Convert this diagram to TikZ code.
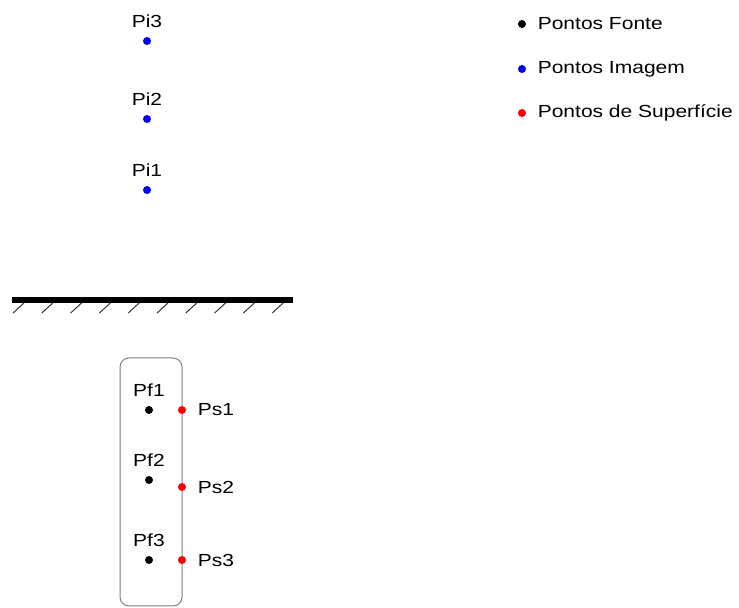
\documentclass[tikz,border=0pt]{standalone}
\usepackage{fontspec}
\setmainfont[FakeStretch=1.2]{Liberation Sans}
\usetikzlibrary{positioning}
\begin{document}
\begin{tikzpicture}[x=.5pt, y=-.5pt, every node/.style={font={\fontsize{8.75}{10}\selectfont}, inner sep=0pt}, line join=round]
  \tikzset{spot/.style={circle, fill=#1, minimum size=4pt, inner sep=0pt}, ground/.style={draw=black, line width=3pt}, hatch/.style={draw=black!80, line width=.5pt}, casing/.style={draw=gray, line width=.5pt, rounded corners=4.5pt}}
  \useasboundingbox (0,0) rectangle (739,608);

  % image points above the surface
  \foreach \n/\y in {1/190,2/119,3/41} {
    \node[spot=blue] (pi\n) at (147,\y) {};
    \node[above=4.5pt of pi\n] (pi\n txt) {Pi\n};
  }

  % surface with hatching
  \draw[ground] (12,300) -- (293,300);
  \foreach \i in {0,...,9} {
    \draw[hatch] (13+28.8*\i,313) -- ++(11,-10);
  }

  % source body: source points inside, surface points on its edge
  \draw[casing] (120,358) rectangle (182,606);
  \foreach \n/\yf/\ys in {1/410/410,2/480/487,3/560/560} {
    \node[spot=black] (pf\n) at (149,\yf) {};
    \node[above=4.5pt of pf\n] (pf\n txt) {Pf\n};
    \node[spot=red] (ps\n) at (182,\ys) {};
    \node[right=5.5pt of ps\n] (ps\n txt) {Ps\n};
  }

  % legend
  \node[spot=black] (lgf) at (522,24) {};
  \node[right=5.5pt of lgf] (lgf txt) {Pontos Fonte};
  \node[spot=blue] (lgi) at (522,69) {};
  \node[right=5.5pt of lgi] (lgi txt) {Pontos Imagem};
  \node[spot=red] (lgs) at (522,113) {};
  \node[right=5.5pt of lgs] (lgs txt) {Pontos de Superfície};
\end{tikzpicture}
\end{document}
